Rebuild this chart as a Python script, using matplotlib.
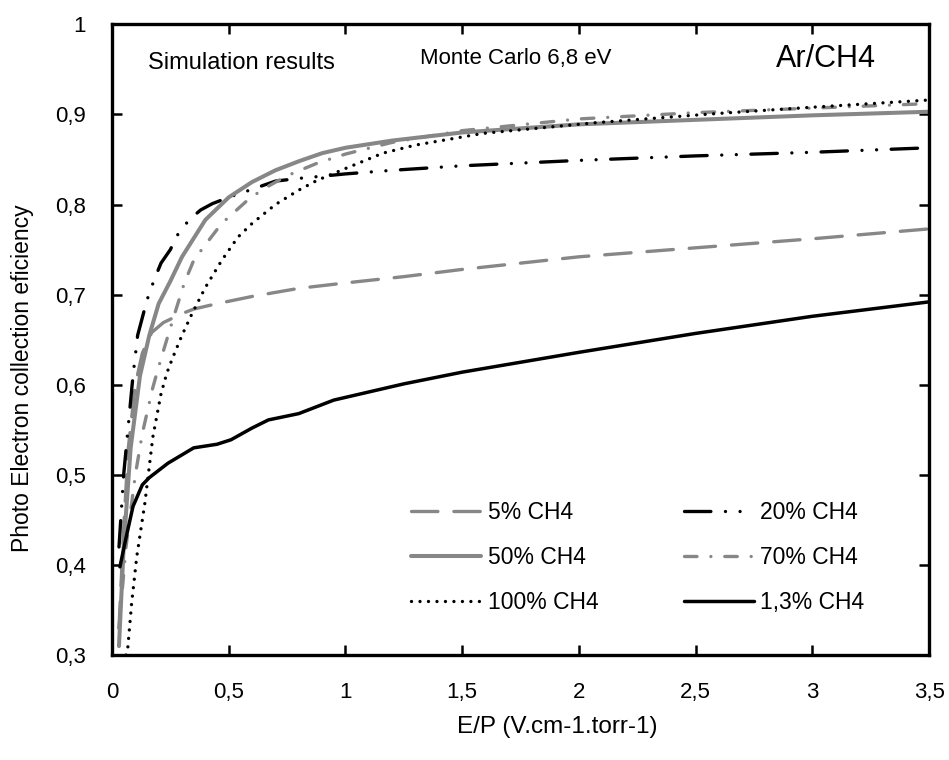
import matplotlib
matplotlib.use("Agg")
import matplotlib.pyplot as plt

plt.rcParams['font.family'] = ['Liberation Sans', 'DejaVu Sans']
plt.rcParams['lines.scale_dashes'] = False

# ---- data ----
x13 = [0.034, 0.06, 0.09, 0.13, 0.16, 0.24, 0.35, 0.45, 0.51, 0.6, 0.67, 0.8, 0.87, 0.95, 1.1, 1.25, 1.5, 1.75, 2.0, 2.5, 3.0, 3.5]
y13 = [0.398, 0.43, 0.465, 0.489, 0.497, 0.513, 0.53, 0.534, 0.539, 0.552, 0.561, 0.568, 0.575, 0.583, 0.592, 0.601, 0.614, 0.625, 0.636, 0.657, 0.676, 0.692]

x5 = [0.03, 0.05, 0.07, 0.1, 0.13, 0.17, 0.22, 0.3, 0.35, 0.45, 0.6, 0.8, 1.0, 1.25, 1.5, 2.0, 2.5, 3.0, 3.5]
y5 = [0.33, 0.44, 0.53, 0.6, 0.635, 0.658, 0.669, 0.679, 0.684, 0.69, 0.698, 0.707, 0.713, 0.72, 0.728, 0.742, 0.752, 0.762, 0.773]

x20 = [0.03, 0.05, 0.07, 0.09, 0.11, 0.15, 0.18, 0.21, 0.25, 0.28, 0.33, 0.38, 0.43, 0.5, 0.59, 0.7, 0.8, 1.0, 1.2, 1.5, 2.0, 2.5, 3.0, 3.5]
y20 = [0.42, 0.50, 0.555, 0.61, 0.655, 0.694, 0.716, 0.735, 0.75, 0.766, 0.783, 0.794, 0.801, 0.808, 0.816, 0.826, 0.829, 0.834, 0.838, 0.843, 0.849, 0.854, 0.858, 0.863]

x50 = [0.03, 0.05, 0.08, 0.12, 0.16, 0.2, 0.25, 0.3, 0.4, 0.5, 0.6, 0.7, 0.8, 0.9, 1.0, 1.2, 1.5, 2.0, 2.5, 3.0, 3.5]
y50 = [0.31, 0.42, 0.53, 0.61, 0.655, 0.69, 0.715, 0.742, 0.783, 0.808, 0.825, 0.838, 0.848, 0.857, 0.863, 0.871, 0.88, 0.889, 0.894, 0.899, 0.903]

x70 = [0.03, 0.06, 0.1, 0.13, 0.175, 0.2, 0.23, 0.27, 0.31, 0.35, 0.39, 0.47, 0.59, 0.66, 0.75, 0.88, 1.0, 1.2, 1.5, 2.0, 2.5, 3.0, 3.5]
y70 = [0.33, 0.42, 0.50, 0.546, 0.597, 0.62, 0.646, 0.68, 0.713, 0.738, 0.752, 0.779, 0.807, 0.819, 0.832, 0.846, 0.856, 0.869, 0.882, 0.895, 0.902, 0.907, 0.912]

x100 = [0.06, 0.068, 0.084, 0.106, 0.141, 0.175, 0.21, 0.235, 0.26, 0.3, 0.343, 0.4, 0.47, 0.54, 0.6, 0.7, 0.8, 0.88, 1.0, 1.16, 1.3, 1.59, 2.08, 2.59, 3.0, 3.5]
y100 = [0.30, 0.309, 0.357, 0.409, 0.469, 0.542, 0.59, 0.613, 0.63, 0.655, 0.679, 0.708, 0.738, 0.764, 0.779, 0.80, 0.816, 0.827, 0.84, 0.857, 0.866, 0.879, 0.891, 0.901, 0.908, 0.916]

labels = ["5% CH4", "20% CH4", "50% CH4", "70% CH4", "100% CH4", "1,3% CH4"]
xticks = [0, 0.5, 1, 1.5, 2, 2.5, 3, 3.5]
xticklabels = ["0", "0,5", "1", "1,5", "2", "2,5", "3", "3,5"]
yticks = [0.3, 0.4, 0.5, 0.6, 0.7, 0.8, 0.9, 1.0]
yticklabels = ["0,3", "0,4", "0,5", "0,6", "0,7", "0,8", "0,9", "1"]

GRAY = '#878787'

fig = plt.figure(figsize=(9.49, 7.6), dpi=100)
ax = fig.add_axes([0.118, 0.138, 0.861, 0.830])

h5, = ax.plot(x5, y5, color=GRAY, lw=2.4, dashes=[19, 11.5], dash_capstyle='round')
h20, = ax.plot(x20, y20, color='black', lw=2.4, dashes=[19, 10.5, 0.01, 10.5, 0.01, 10.5],
               dash_capstyle='round')
h50, = ax.plot(x50, y50, color=GRAY, lw=2.9, solid_capstyle='round')
h70, = ax.plot(x70, y70, color=GRAY, lw=2.4, dashes=[9, 10, 0.01, 10], dash_capstyle='round')
h100, = ax.plot(x100, y100, color='black', lw=2.4, dashes=[0.01, 6.1], dash_capstyle='round')
h13, = ax.plot(x13, y13, color='black', lw=2.5, solid_capstyle='round')

ax.set_xlim(0, 3.5)
ax.set_ylim(0.3, 1.0)
ax.set_xticks(xticks)
ax.set_xticklabels(xticklabels)
ax.set_yticks(yticks)
ax.set_yticklabels(yticklabels)
ax.tick_params(direction='in', length=7, width=1.8, top=True, right=True,
               labelsize=16, pad=19)
for s in ax.spines.values():
    s.set_linewidth(2.4)

ax.set_xlabel("E/P (V.cm-1.torr-1)", fontsize=17.5, labelpad=10)
ax.set_ylabel("Photo Electron collection eficiency", fontsize=16.5, labelpad=15)
ax.xaxis.label.set_x(0.545)
ax.yaxis.label.set_y(0.439)

ax.text(0.154, 0.957, "Simulation results", fontsize=17, va='center', ha='left')
ax.text(1.32, 0.962, "Monte Carlo 6,8 eV", fontsize=16, va='center', ha='left')
ax.text(2.845, 0.962, "Ar/CH4", fontsize=22, va='center', ha='left')

handles = [h5, h50, h100, h20, h70, h13]
labs = [labels[0], labels[2], labels[4], labels[1], labels[3], labels[5]]
leg = ax.legend(handles, labs, ncol=2, frameon=False, fontsize=16.5,
                handlelength=3.05, handletextpad=0.3, columnspacing=3.7,
                labelspacing=0.95, borderpad=0, loc='upper left',
                bbox_to_anchor=(0.3525, 0.2622))

fig.savefig("out.png", dpi=100)
